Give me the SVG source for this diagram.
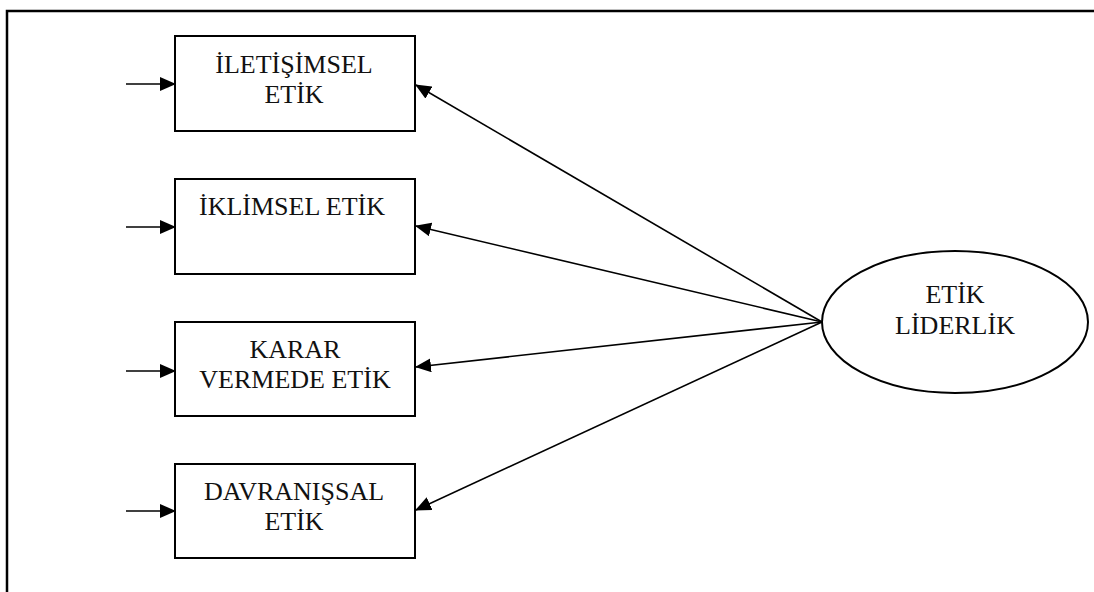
<svg xmlns="http://www.w3.org/2000/svg" width="1094" height="592" viewBox="0 0 1094 592">
  <style>
    .box { fill: #fff; stroke: #000; stroke-width: 2; }
    .ell { fill: #fff; stroke: #000; stroke-width: 2; }
    .lbl { font-family: "Liberation Serif", "Times New Roman", serif; font-size: 26px; fill: #111; text-anchor: middle; }
    .edge { stroke: #000; stroke-width: 1.6; fill: none; marker-end: url(#arrow); }
    .frame { fill: none; stroke: #000; stroke-width: 2.5; }
  </style>
  <defs>
    <marker id="arrow" markerUnits="userSpaceOnUse" markerWidth="16" markerHeight="14" refX="15" refY="7" orient="auto">
      <path d="M0,0 L16,7 L0,14 Z" fill="#000"/>
    </marker>
  </defs>

  <!-- outer frame (right and bottom edges run past the canvas) -->
  <rect class="frame" x="7" y="11" width="1100" height="600"/>

  <g id="connectors">
    <!-- error inputs -->
    <line class="edge" x1="126" y1="84" x2="175" y2="84"/>
    <line class="edge" x1="126" y1="227" x2="175" y2="227"/>
    <line class="edge" x1="126" y1="371" x2="175" y2="371"/>
    <line class="edge" x1="126" y1="511" x2="175" y2="511"/>
    <!-- loadings from the latent factor -->
    <line class="edge" x1="822" y1="322" x2="416" y2="85"/>
    <line class="edge" x1="822" y1="322" x2="416" y2="226"/>
    <line class="edge" x1="822" y1="322" x2="416" y2="367"/>
    <line class="edge" x1="822" y1="322" x2="416" y2="510"/>
  </g>

  <g id="iletisimsel">
    <rect class="box" x="175" y="36" width="240" height="95"/>
    <text class="lbl" x="294" y="73">İLETİŞİMSEL</text>
    <text class="lbl" x="294" y="103">ETİK</text>
  </g>

  <g id="iklimsel">
    <rect class="box" x="175" y="179" width="240" height="95"/>
    <text class="lbl" x="292" y="215">İKLİMSEL ETİK</text>
  </g>

  <g id="karar">
    <rect class="box" x="175" y="322" width="240" height="94"/>
    <text class="lbl" x="295" y="358">KARAR</text>
    <text class="lbl" x="295" y="388">VERMEDE ETİK</text>
  </g>

  <g id="davranissal">
    <rect class="box" x="175" y="464" width="240" height="94"/>
    <text class="lbl" x="294" y="500">DAVRANIŞSAL</text>
    <text class="lbl" x="294" y="530">ETİK</text>
  </g>

  <g id="etik-liderlik">
    <ellipse class="ell" cx="955" cy="322" rx="133" ry="71"/>
    <text class="lbl" x="955" y="303">ETİK</text>
    <text class="lbl" x="955" y="334">LİDERLİK</text>
  </g>
</svg>
